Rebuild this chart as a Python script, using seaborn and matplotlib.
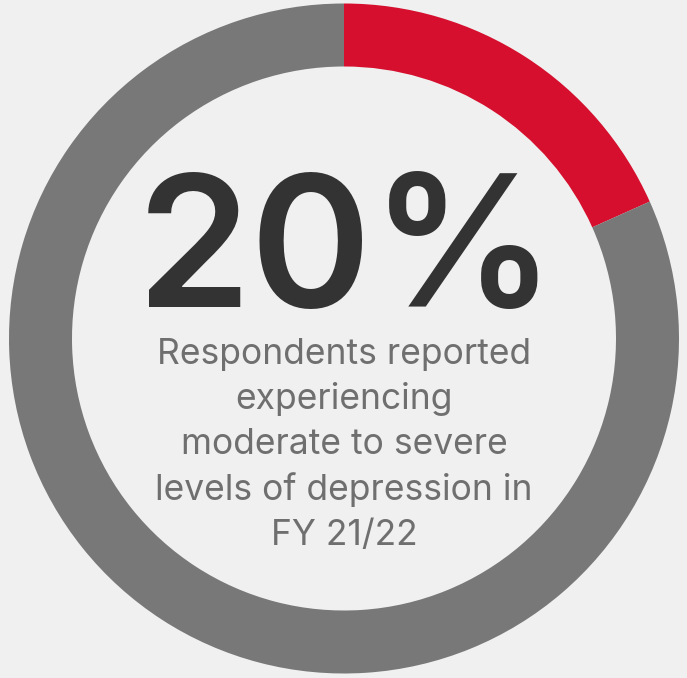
import matplotlib
matplotlib.use("Agg")
import matplotlib.pyplot as plt
import seaborn as sns

# Data
categories = ["Moderate to severe depression", "Other respondents"]
shares = [18.3, 81.7]
headline = "20%"
caption_lines = ["Respondents reported", "experiencing", "moderate to severe",
                 "levels of depression in", "FY 21/22"]

BG = "#f0f0f0"
RED = "#d50f2d"
GREY = "#787878"

sns.set_theme(style="white")
plt.rcParams["font.family"] = ["Inter", "DejaVu Sans"]

W, H = 687, 678
fig = plt.figure(figsize=(W / 100, H / 100), dpi=100, facecolor=BG)
ax = fig.add_axes([0, 0, 1, 1])
ax.set_facecolor(BG)

cx, cy, R, ring = 344, 338.5, 335, 63
ax.pie(shares, colors=[RED, GREY], startangle=90, counterclock=False,
       center=(cx, H - cy), radius=R,
       wedgeprops=dict(width=ring, edgecolor="none", linewidth=0))
ax.set_xlim(0, W)
ax.set_ylim(0, H)
ax.set_aspect("equal")
ax.axis("off")

ax.text(cx + 2, H - 307, headline, ha="center", va="baseline",
        fontsize=132, fontweight="semibold", color="#333333")

baselines = [364, 409, 454, 500, 545]
for line, yb in zip(caption_lines, baselines):
    ax.text(cx, H - yb, line, ha="center", va="baseline",
            fontsize=25.5, color="#6f6f6f")

fig.savefig("out.png", dpi=100, facecolor=BG)
